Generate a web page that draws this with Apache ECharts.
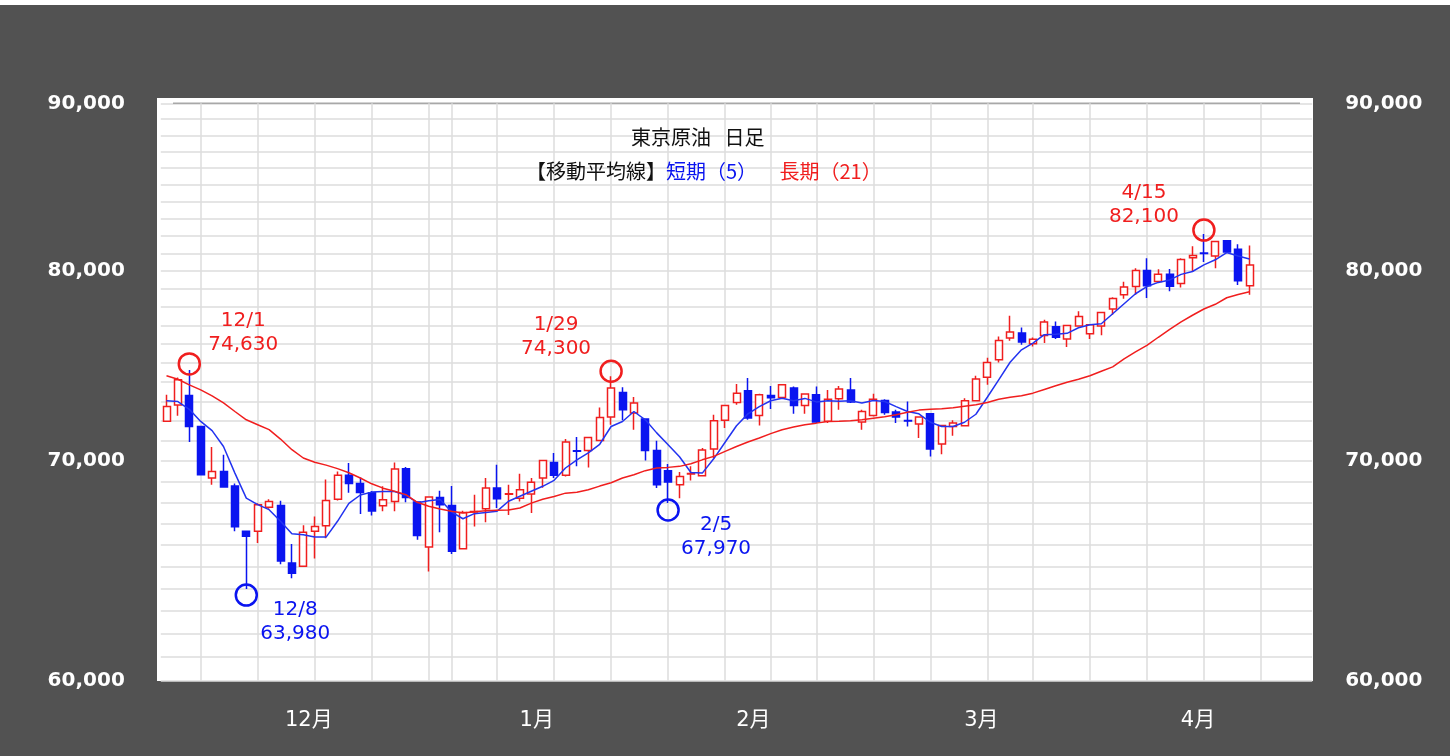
<!DOCTYPE html>
<html>
<head>
<meta charset="utf-8">
<title>東京原油 日足</title>
<style>
  html, body { margin: 0; padding: 0; background: #fff; }
  #container { position: absolute; left: 0; top: 5px; width: 1450px; height: 751px; }
</style>
</head>
<body>
<div id="container"></div>
<script src="https://cdn.jsdelivr.net/npm/echarts@6/dist/echarts.min.js"></script>
<script type="text/javascript">

    // 営業日（右端は空欄の日付）
    var dates = [
        '2023/11/29', '2023/11/30', '2023/12/01', '2023/12/04', '2023/12/05', '2023/12/06', '2023/12/07', '2023/12/08',
        '2023/12/11', '2023/12/12', '2023/12/13', '2023/12/14', '2023/12/15', '2023/12/18', '2023/12/19', '2023/12/20',
        '2023/12/21', '2023/12/22', '2023/12/25', '2023/12/26', '2023/12/27', '2023/12/28', '2023/12/29',
        '2024/01/04', '2024/01/05', '2024/01/09', '2024/01/10', '2024/01/11', '2024/01/12', '2024/01/15', '2024/01/16',
        '2024/01/17', '2024/01/18', '2024/01/19', '2024/01/22', '2024/01/23', '2024/01/24', '2024/01/25', '2024/01/26',
        '2024/01/29', '2024/01/30', '2024/01/31',
        '2024/02/01', '2024/02/02', '2024/02/05', '2024/02/06', '2024/02/07', '2024/02/08', '2024/02/09', '2024/02/13',
        '2024/02/14', '2024/02/15', '2024/02/16', '2024/02/19', '2024/02/20', '2024/02/21', '2024/02/22', '2024/02/26',
        '2024/02/27', '2024/02/28', '2024/02/29',
        '2024/03/01', '2024/03/04', '2024/03/05', '2024/03/06', '2024/03/07', '2024/03/08', '2024/03/11', '2024/03/12',
        '2024/03/13', '2024/03/14', '2024/03/15', '2024/03/18', '2024/03/19', '2024/03/21', '2024/03/22', '2024/03/25',
        '2024/03/26', '2024/03/27', '2024/03/28', '2024/03/29',
        '2024/04/01', '2024/04/02', '2024/04/03', '2024/04/04', '2024/04/05', '2024/04/08', '2024/04/09', '2024/04/10',
        '2024/04/11', '2024/04/12', '2024/04/15', '2024/04/16', '2024/04/17', '2024/04/18', '2024/04/19',
        '2024/04/22', '2024/04/23', '2024/04/24', '2024/04/25', '2024/04/26'
    ];

    var opens = [
        71980, 72810, 73300, 71720, 69170, 69490, 68780, 66630, 66630, 67760, 67850, 65160, 65010, 66630, 66890, 68150,
        69300, 68910, 68460, 67840, 68040, 69620, 68010,
        65900, 68230, 67850, 65820, 67540, 67690, 68690, 68390, 68200, 68400, 69170, 69930, 69300, 70510, 70520, 71020,
        72200, 73450, 72400,
        72100, 70520, 69530, 68850, 69370, 69280, 70590, 72030, 72940, 73540, 72280, 73300, 73200, 73680, 72790, 73340,
        71980, 73130, 73580,
        71950, 72280, 73040, 72450, 72020, 71850, 72360, 70840, 71720, 71760, 73030, 74250, 75160, 76320, 76590, 76010,
        76460, 76920, 76270, 76970,
        76550, 76960, 77890, 78670, 79130, 80020, 79410, 79810, 79300, 80740, 81010, 80840, 81720, 81230, 79170
    ];
    var closes = [
        72740, 74110, 71720, 69330, 69490, 68730, 66840, 66400, 67880, 68040, 65250, 64700, 66580, 66860, 68090, 69300,
        68910, 68470, 67590, 68120, 69610, 68230, 66430,
        68250, 67890, 65700, 67520, 67560, 68690, 68170, 68410, 68600, 68960, 70030, 69300, 70940, 70490, 71170, 72180,
        73680, 72570, 72910,
        70520, 68850, 68980, 69250, 69390, 70550, 72010, 72790, 73420, 72150, 73340, 73180, 73850, 72790, 73370, 71950,
        73110, 73640, 72960,
        72480, 73110, 72430, 72200, 72000, 72200, 70590, 71770, 71900, 73030, 74150, 75020, 76190, 76640, 76100, 76260,
        77180, 76360, 76990, 77480,
        77030, 77700, 78470, 79110, 80020, 79180, 79810, 79150, 80650, 80880, 80990, 81670, 81080, 79450, 80340
    ];
    var lows = [
        71950, 72260, 70940, 69300, 68840, 68700, 66630, 63980, 66090, 67690, 65110, 64470, 64980, 65370, 66300, 68090,
        68460, 67440, 67370, 67570, 67570, 68000, 66240,
        64780, 66580, 65580, 65800, 66860, 67050, 67730, 67400, 68040, 67490, 68700, 69170, 69250, 69740, 69690, 71000,
        71810, 72030, 71560,
        70030, 68690, 67970, 68200, 69050, 69250, 70140, 71640, 72820, 72060, 71770, 72610, 73170, 72360, 72360, 71900,
        71900, 72570, 72910,
        71560, 72230, 72310, 71900, 71720, 71140, 70230, 70340, 71250, 71720, 72990, 73850, 75020, 76170, 75960, 75870,
        76050, 76270, 75840, 76940,
        76270, 76470, 77580, 78450, 78670, 78490, 79350, 78870, 79080, 79950, 80510, 80160, 81000, 79210, 78670
    ];
    var highs = [
        73340, 74230, 74630, 71750, 70700, 70310, 68910, 66650, 67960, 68150, 68080, 66040, 66910, 67330, 69100, 69490,
        69900, 69200, 68540, 68770, 69930, 69710, 68050,
        68280, 68550, 68790, 67600, 68360, 69170, 69820, 68850, 69380, 69170, 70060, 70400, 71090, 71190, 71190, 72680,
        74300, 73730, 73220,
        72130, 71000, 69850, 69460, 69740, 70640, 72310, 72820, 73890, 74200, 73390, 73790, 73890, 73760, 73420, 73760,
        73580, 73790, 74200,
        72570, 73390, 73110, 72570, 72990, 72230, 72400, 71800, 72030, 73160, 74320, 75270, 76400, 77520, 76890, 76350,
        77300, 77210, 77030, 77770,
        77060, 77720, 78540, 79390, 80160, 80720, 80100, 80110, 80720, 81400, 82100, 81700, 81760, 81520, 81450
    ];

    // 移動平均線（チャートから読み取り）
    var ma5 = [
        73030, 72990, 72590, 71975, 71510, 70720, 69410, 68200, 67890, 67650, 67100, 66520, 66470, 66360, 66360, 67100,
        67950, 68350, 68490, 68520, 68520, 68340, 67980,
        68070, 68140, 67550, 67220, 67460, 67520, 67580, 68050, 68290, 68530, 68770, 69060, 69660, 70060, 70400, 70830,
        71720, 71975, 72480,
        72060, 71400, 70810, 70210, 69440, 69410, 70110, 70930, 71760, 72360, 72730, 73030, 73160, 73030, 73150, 72970,
        73030, 73000, 73030,
        72910, 73040, 72990, 72730, 72480, 72360, 71935, 71720, 71720, 71935, 72340, 73210, 74110, 75030, 75690, 76050,
        76500, 76520, 76570, 76870,
        77030, 77090, 77630, 78180, 78730, 79130, 79360, 79500, 79810, 79970, 80340, 80630, 81040, 80850, 80680
    ];
    var ma21 = [
        74320, 74140, 73850, 73590, 73280, 72920, 72480, 72060, 71810, 71560, 71090, 70560, 70150, 69940, 69800, 69630,
        69430, 69170, 68890, 68680, 68530, 68370, 68000,
        67810, 67680, 67580, 67490, 67550, 67600, 67620, 67630, 67730, 67960, 68150, 68280, 68440, 68480, 68600, 68780,
        68940, 69170, 69330,
        69530, 69660, 69690, 69740, 69870, 70060, 70230, 70480, 70720, 70940, 71140, 71360, 71560, 71690, 71810, 71890,
        71975, 71985, 72010,
        72060, 72140, 72210, 72310, 72440, 72550, 72590, 72620, 72670, 72750, 72820, 72940, 73110, 73210, 73290, 73420,
        73610, 73800, 73980, 74140,
        74320, 74560, 74790, 75210, 75580, 75930, 76360, 76790, 77190, 77550, 77890, 78150, 78510, 78690, 78840
    ];

    // 週初めの縦線
    var weekStarts = [
        '2023/12/04', '2023/12/11', '2023/12/18', '2023/12/25', '2024/01/04', '2024/01/09', '2024/01/15',
        '2024/01/22', '2024/01/29', '2024/02/05', '2024/02/13', '2024/02/19', '2024/02/26', '2024/03/04',
        '2024/03/11', '2024/03/18', '2024/03/25', '2024/04/01', '2024/04/08', '2024/04/15', '2024/04/22'
    ];
    var monthLabels = {
        '2023/12/15': '12月', '2024/01/18': '1月', '2024/02/15': '2月', '2024/03/15': '3月', '2024/04/12': '4月'
    };
    var yLabelValues = [60000, 70000, 80000, 90000];
    var yMin = 60000, yMax = 90000, yGridStep = 1000;

    // 高値・安値の注記
    var markDates = ['2023/12/01', '2023/12/08', '2024/01/29', '2024/02/05', '2024/04/15'];
    var markValues = [74630, 63980, 74300, 67970, 82100];
    var markTypes = ['high', 'low', 'high', 'low', 'high'];

    var yGridValues = [];
    for (var v = yMin; v <= yMax; v += yGridStep) {
        yGridValues.push(v);
    }

    var RED = '#f01e1e';
    var BLUE = '#0a14f0';
    var CJK = 'Noto Sans CJK JP';
    // 円と注記の位置（円の中心からのずれ）
    var circleOffsets = [-6, 6, -5, 7, -4];
    var labelOffsets = [[54, -31.5], [49, 26.5], [-55, -34], [48, 27.3], [-60, -25.6]];

    var candleData = [];
    for (var i = 0; i < opens.length; i++) {
        candleData.push([opens[i], closes[i], lows[i], highs[i]]);
    }

    var markPointData = markDates.map(function (d, i) {
        var isHigh = markTypes[i] === 'high';
        var parts = d.split('/');
        var text = parseInt(parts[1], 10) + '/' + parseInt(parts[2], 10) + '\n' +
            markValues[i].toLocaleString('en-US');
        var color = isHigh ? RED : BLUE;
        return {
            coord: [d, markValues[i]],
            symbolOffset: [0, circleOffsets[i]],
            itemStyle: { color: 'rgba(0,0,0,0)', borderColor: color, borderWidth: 2.5 },
            label: {
                show: true,
                formatter: text,
                color: color,
                fontSize: 20,
                lineHeight: 24,
                offset: labelOffsets[i]
            }
        };
    });

    var dom = document.getElementById('container');
    var myChart = echarts.init(dom, null, { renderer: 'canvas' });

    var yAxisBase = {
        type: 'log',
        min: yMin,
        max: yMax,
        axisLine: { show: false },
        axisTick: { show: false, customValues: yGridValues },
        axisLabel: {
            customValues: yLabelValues,
            color: '#fff',
            fontSize: 20,
            fontWeight: 'bold',
            fontFamily: 'DejaVu Sans',
            formatter: function (val) { return Number(val).toLocaleString('en-US'); }
        }
    };

    var option = {
        backgroundColor: '#525252',
        animation: false,
        textStyle: { fontFamily: "'DejaVu Sans', 'Noto Sans CJK JP'" },
        title: [
            {
                text: '東京原油   日足',
                left: 626,
                top: 117,
                textStyle: { fontSize: 20, fontWeight: 'normal', color: '#111', fontFamily: CJK }
            },
            {
                text: '{k|【移動平均線】}{s|短期（5）}{l|     長期（21）}',
                left: 521,
                top: 151,
                textStyle: {
                    fontFamily: CJK,
                    fontWeight: 'normal',
                    rich: {
                        k: { fontSize: 20, color: '#111', fontFamily: CJK, fontWeight: 'normal' },
                        s: { fontSize: 20, color: BLUE, fontFamily: CJK, fontWeight: 'normal' },
                        l: { fontSize: 20, color: RED, fontFamily: CJK, fontWeight: 'normal' }
                    }
                }
            }
        ],
        graphic: [
            {
                type: 'rect',
                z: -1,
                silent: true,
                shape: { x: 157, y: 93, width: 1156, height: 583 },
                style: { fill: '#fff' }
            },
            {
                type: 'line',
                z: 1,
                silent: true,
                shape: { x1: 173, y1: 98.3, x2: 1300, y2: 98.3 },
                style: { stroke: '#a8a8a8', lineWidth: 1.5 }
            }
        ],
        grid: {
            left: 160.8,
            right: 137.8,
            top: 98.3,
            bottom: 75.5
        },
        xAxis: {
            type: 'category',
            data: dates,
            boundaryGap: true,
            axisLine: { show: false },
            axisTick: { show: false },
            splitLine: { show: false },
            axisLabel: {
                interval: function (index, value) { return !!monthLabels[value]; },
                formatter: function (value) { return monthLabels[value] || ''; },
                color: '#fff',
                fontSize: 21,
                margin: 30,
                padding: [0, 0, 0, 11]
            }
        },
        yAxis: [
            echarts.util.merge({
                position: 'left',
                splitLine: { show: true, lineStyle: { color: '#dcdcdc', width: 1.5 } },
                axisLabel: { margin: 36 }
            }, yAxisBase),
            echarts.util.merge({
                position: 'right',
                splitLine: { show: false },
                axisLabel: { margin: 33 }
            }, yAxisBase)
        ],
        series: [
            {
                name: '東京原油',
                type: 'candlestick',
                z: 2,
                barWidth: 7.5,
                data: candleData,
                itemStyle: {
                    color: '#fff',
                    color0: BLUE,
                    borderColor: RED,
                    borderColor0: BLUE,
                    borderWidth: 1.5
                },
                markLine: {
                    silent: true,
                    z: 1,
                    symbol: 'none',
                    label: { show: false },
                    lineStyle: { color: '#dcdcdc', width: 1.5, type: 'solid' },
                    emphasis: { disabled: true },
                    data: weekStarts.map(function (d) { return { xAxis: d }; })
                },
                markPoint: {
                    symbol: 'circle',
                    symbolSize: 21,
                    silent: true,
                    data: markPointData
                }
            },
            {
                name: '短期（5）',
                type: 'line',
                z: 3,
                data: ma5,
                symbol: 'none',
                lineStyle: { color: '#2233f0', width: 1.5 },
                silent: true
            },
            {
                name: '長期（21）',
                type: 'line',
                z: 3,
                data: ma21,
                symbol: 'none',
                lineStyle: { color: RED, width: 1.5 },
                silent: true
            }
        ]
    };

    myChart.setOption(option);
    window.addEventListener('resize', myChart.resize);
</script>
</body>
</html>
